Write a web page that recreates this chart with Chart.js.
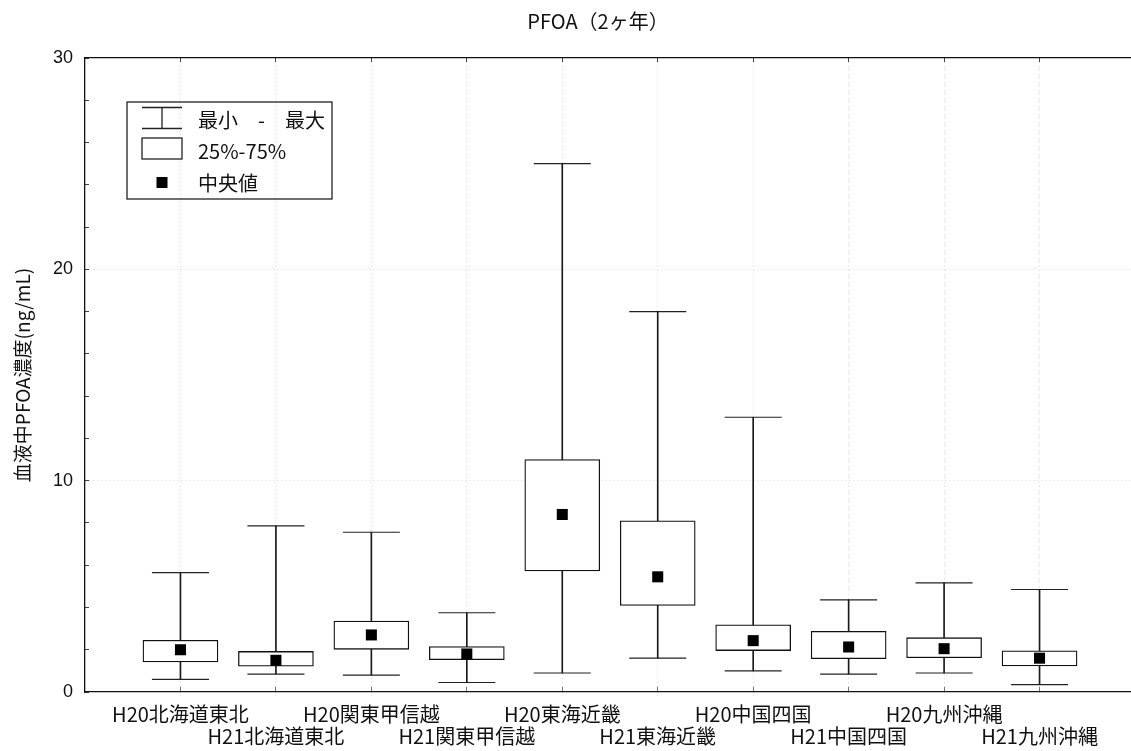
<!DOCTYPE html>
<html>
<head>
<meta charset="utf-8">
<script src="https://cdn.jsdelivr.net/npm/chart.js@4.4.0/dist/chart.umd.min.js"></script>
<style>
  html, body { margin: 0; padding: 0; background: #fff; overflow: hidden; }
  #wrap { width: 1135px; height: 751px; }
</style>
</head>
<body>
<div id="wrap"><canvas id="boxChart" width="1135" height="751"></canvas></div>
<script>
// data
var categories = ['H20北海道東北', 'H21北海道東北', 'H20関東甲信越', 'H21関東甲信越', 'H20東海近畿',
                  'H21東海近畿', 'H20中国四国', 'H21中国四国', 'H20九州沖縄', 'H21九州沖縄'];
var minValues    = [0.6, 0.85, 0.8, 0.45, 0.9, 1.6, 1.0, 0.85, 0.9, 0.35];
var q1Values     = [1.42, 1.22, 2.02, 1.53, 5.73, 4.1, 1.96, 1.58, 1.62, 1.23];
var medianValues = [2.0, 1.5, 2.7, 1.8, 8.4, 5.45, 2.43, 2.13, 2.05, 1.6];
var q3Values     = [2.45, 1.92, 3.36, 2.15, 11.0, 8.1, 3.18, 2.87, 2.57, 1.95];
var maxValues    = [5.65, 7.86, 7.56, 3.75, 25.0, 18.0, 13.0, 4.36, 5.16, 4.85];
var yTickLabels  = [0, 10, 20, 30];
var legendLabels = ['最小　-　最大', '25%-75%', '中央値'];
var chartTitle   = 'PFOA（2ヶ年）';

var cjkFont = "'Noto Sans CJK JP', 'Noto Sans', sans-serif";

function points(values) {
    return values.map(function(v, i) { return {x: i + 1, y: v}; });
}
function ranges(lo, hi) {
    return lo.map(function(v, i) { return {x: i + 1, y: [v, hi[i]]}; });
}
// one slot either side of the categories so the axis runs 0 .. n+1
function slotTicks(scale) {
    var t = [];
    for (var i = 0; i <= categories.length + 1; i++) t.push({value: i});
    scale.ticks = t;
}
function inRange(c) {
    var v = c.tick ? c.tick.value : 0;
    return v >= 1 && v <= categories.length;
}

// title and legend box
var boxLegend = {
    id: 'boxLegend',
    afterDraw: function(chart) {
        var ctx = chart.ctx;
        var a = chart.chartArea;
        ctx.save();
        ctx.fillStyle = '#111';
        ctx.textAlign = 'center';
        ctx.textBaseline = 'middle';
        ctx.font = '20px ' + cjkFont;
        ctx.fillText(chartTitle, a.left + 513, 21);

        var fx = a.left + 42, fy = a.top + 44;
        ctx.strokeStyle = '#222';
        ctx.lineWidth = 1.3;
        ctx.strokeRect(fx, fy, 205, 97);

        var ix = fx + 15, iw = 40;
        // whisker icon
        ctx.beginPath();
        ctx.moveTo(ix, fy + 5.5); ctx.lineTo(ix + iw, fy + 5.5);
        ctx.moveTo(ix, fy + 26.5); ctx.lineTo(ix + iw, fy + 26.5);
        ctx.moveTo(ix + iw / 2, fy + 5.5); ctx.lineTo(ix + iw / 2, fy + 26.5);
        ctx.stroke();
        // box icon
        ctx.fillStyle = '#fff';
        ctx.fillRect(ix, fy + 36, iw, 21);
        ctx.strokeRect(ix, fy + 36, iw, 21);
        // median icon
        ctx.fillStyle = '#000';
        ctx.fillRect(ix + iw / 2 - 5.5, fy + 75, 11, 11);

        ctx.fillStyle = '#111';
        ctx.textAlign = 'left';
        ctx.fillText(legendLabels[0], fx + 71, fy + 18);
        ctx.fillText(legendLabels[1], fx + 71, fy + 49);
        ctx.fillText(legendLabels[2], fx + 71, fy + 81);
        ctx.restore();
    }
};

var ctx = document.getElementById('boxChart').getContext('2d');
var boxChart = new Chart(ctx, {
    type: 'bar',
    data: {
        datasets: [
            {
                type: 'scatter',
                label: 'median',
                data: points(medianValues),
                pointStyle: 'rect',
                pointRadius: 7.8,
                pointBorderWidth: 0,
                backgroundColor: '#000',
                order: 0
            },
            {
                label: 'box',
                data: ranges(q1Values, q3Values),
                backgroundColor: '#fff',
                borderColor: '#111',
                borderWidth: 1.3,
                borderSkipped: false,
                barThickness: 75,
                grouped: false,
                order: 1
            },
            {
                label: 'whisker',
                data: ranges(minValues, maxValues),
                backgroundColor: '#1a1a1a',
                borderWidth: 0,
                barThickness: 1,
                grouped: false,
                order: 2
            },
            {
                type: 'scatter',
                label: 'min',
                data: points(minValues),
                pointStyle: 'line',
                pointRadius: 28.5,
                borderColor: '#222',
                pointBorderWidth: 1.2,
                order: 3
            },
            {
                type: 'scatter',
                label: 'max',
                data: points(maxValues),
                pointStyle: 'line',
                pointRadius: 28.5,
                borderColor: '#222',
                pointBorderWidth: 1.2,
                order: 3
            }
        ]
    },
    options: {
        responsive: false,
        animation: false,
        events: [],
        layout: { autoPadding: false, padding: { top: 58, left: 0, right: 0, bottom: 0 } },
        plugins: {
            legend: { display: false },
            tooltip: { enabled: false },
            title: { display: false }
        },
        scales: {
            x: {
                type: 'linear',
                position: 'bottom',
                min: 0,
                max: categories.length + 1,
                offset: false,
                afterFit: function(scale) {
                    scale.height = 59;
                    scale.paddingLeft = 0;
                    scale.paddingRight = 0;
                },
                afterBuildTicks: slotTicks,
                ticks: {
                    autoSkip: false,
                    maxRotation: 0,
                    padding: 16,
                    color: '#111',
                    font: { size: 20, family: cjkFont, lineHeight: 1.1 },
                    callback: function(value) {
                        var label = categories[value - 1];
                        if (!label) return '';
                        return (value - 1) % 2 === 0 ? [label, ''] : ['', label];
                    }
                },
                grid: {
                    offset: false,
                    color: function(c) { return inRange(c) ? '#d8d8d8' : 'rgba(0,0,0,0)'; },
                    lineWidth: 1,
                    tickLength: -5,
                    tickColor: function(c) { return inRange(c) ? '#777' : 'rgba(0,0,0,0)'; }
                },
                border: { color: '#111', width: 1.3, dash: [1, 3] }
            },
            x2: {
                type: 'linear',
                position: 'top',
                min: 0,
                max: categories.length + 1,
                offset: false,
                afterFit: function(scale) {
                    scale.height = 0;
                    scale.paddingLeft = 0;
                    scale.paddingRight = 0;
                },
                afterBuildTicks: slotTicks,
                ticks: { display: false },
                grid: {
                    offset: false,
                    drawOnChartArea: false,
                    tickLength: -4,
                    tickColor: function(c) { return inRange(c) ? '#444' : 'rgba(0,0,0,0)'; }
                },
                border: { color: '#111', width: 1.3 }
            },
            y: {
                min: 0,
                max: 30,
                afterFit: function(scale) { scale.width = 85; },
                ticks: {
                    stepSize: 2,
                    autoSkip: false,
                    padding: 16,
                    color: '#111',
                    font: { size: 18, family: "'Liberation Sans', Arial, sans-serif" },
                    callback: function(value) {
                        return yTickLabels.indexOf(value) >= 0 ? String(value) : '';
                    }
                },
                grid: {
                    color: function(c) {
                        var v = c.tick ? c.tick.value : 0;
                        return (yTickLabels.indexOf(v) >= 0 && v > 0 && v < 30) ? '#d8d8d8' : 'rgba(0,0,0,0)';
                    },
                    lineWidth: 1,
                    tickLength: -4,
                    tickColor: '#444'
                },
                border: { color: '#111', width: 1.3, dash: [1, 3] },
                title: {
                    display: true,
                    text: '血液中PFOA濃度(ng/mL)',
                    color: '#111',
                    font: { size: 19, family: cjkFont },
                    padding: { top: 11, bottom: 0 }
                }
            }
        }
    },
    plugins: [boxLegend]
});
</script>
</body>
</html>
